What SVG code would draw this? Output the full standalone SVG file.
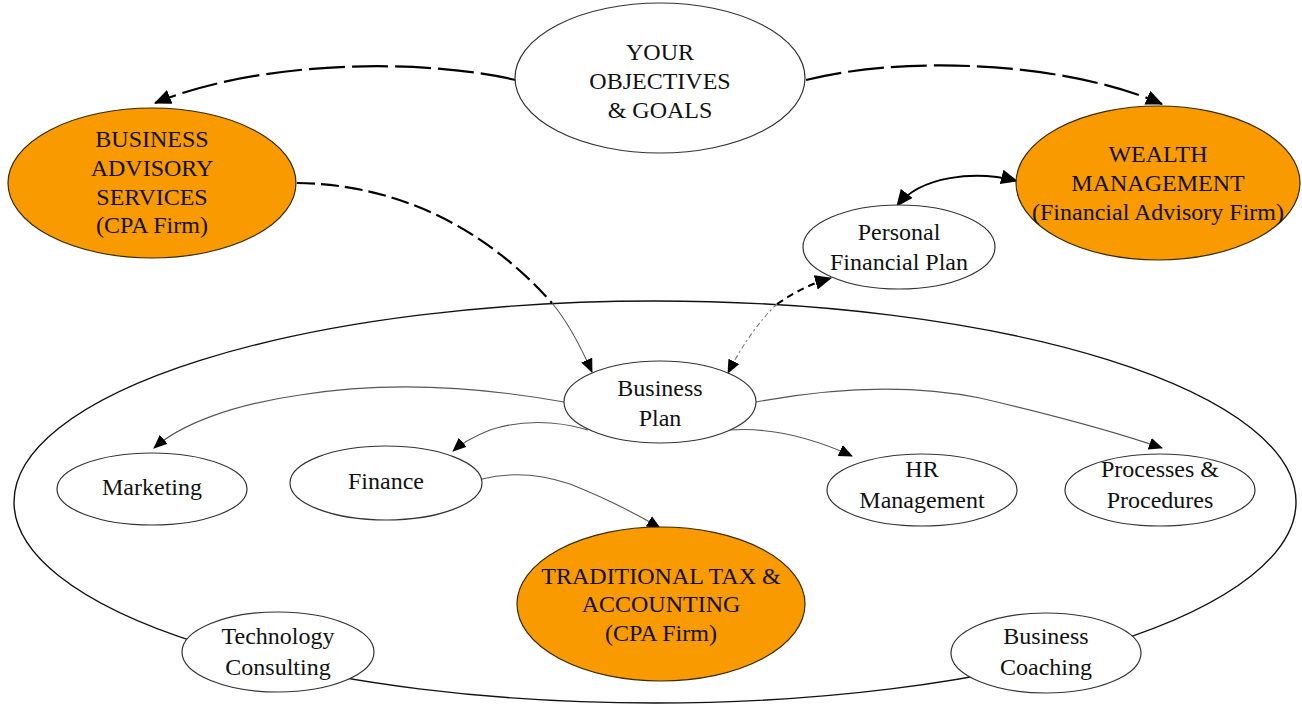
<svg xmlns="http://www.w3.org/2000/svg" width="1302" height="705" viewBox="0 0 1302 705">
<style>
.w{fill:#fff;stroke:#333;stroke-width:1.2}
.o{fill:#F89A00;stroke:#3a2a00;stroke-width:1.2}
.t{font-family:"Liberation Serif","Times New Roman",serif;font-size:24px;fill:#111;text-anchor:middle}
.thick{fill:none;stroke:#000;stroke-width:2.2;stroke-dasharray:36 7}
.thin{fill:none;stroke:#555;stroke-width:1.1}
.dd{fill:none;stroke:#777;stroke-width:1.1;stroke-dasharray:5 3 2 3}
</style>
<defs>
<marker id="a" viewBox="0 0 14 12" refX="13" refY="6" markerWidth="14" markerHeight="12" markerUnits="userSpaceOnUse" orient="auto-start-reverse">
<path d="M0,0 L14,6 L0,12 z" fill="#000"/>
</marker>
<marker id="ab" viewBox="0 0 16 14" refX="15" refY="7" markerWidth="17" markerHeight="15" markerUnits="userSpaceOnUse" orient="auto-start-reverse">
<path d="M0,0 L16,7 L0,14 z" fill="#000"/>
</marker>
</defs>
<g id="boundary">
<ellipse cx="655" cy="502" rx="641" ry="201" fill="#fff" stroke="#111" stroke-width="1.4"/>
</g>
<g id="connectors">
<path class="thick" d="M516,80 C420,58 260,60 155,103" marker-end="url(#ab)"/>
<path class="thick" d="M806,80 C900,56 1060,60 1162,104" marker-end="url(#ab)"/>
<path class="thick" d="M297,183 C390,184 480,222 552,303" style="stroke-dasharray:18 6"/>
<path class="thin" d="M552,303 C568,322 580,345 592,372" marker-end="url(#a)"/>
<path d="M1017,181 C975,170 920,176 897,206" fill="none" stroke="#000" stroke-width="2" marker-start="url(#ab)" marker-end="url(#ab)"/>
<path d="M777,304 C795,292 810,284 831,278" fill="none" stroke="#000" stroke-width="2" stroke-dasharray="7 5" marker-end="url(#ab)"/>
<path class="dd" d="M777,304 C760,320 742,345 728,373" marker-end="url(#a)"/>
<path class="thin" d="M564,402 C470,385 380,382 300,395 C230,405 180,425 154,448" marker-end="url(#a)"/>
<path class="thin" d="M588,430 C555,420 520,420 490,430 C475,436 462,443 453,451" marker-end="url(#a)"/>
<path class="thin" d="M730,430 C760,428 800,432 852,456" marker-end="url(#a)"/>
<path class="thin" d="M756,402 C820,390 900,382 980,398 C1040,412 1110,430 1162,448" marker-end="url(#a)"/>
<path class="thin" d="M482,479 C510,472 540,474 570,484 C600,496 630,510 660,528" marker-end="url(#a)"/>
</g>
<g id="objectives">
<ellipse class="w" cx="660" cy="78" rx="145" ry="75" stroke-width="1.6"/>
<text class="t" x="660" y="60">YOUR</text>
<text class="t" x="660" y="89">OBJECTIVES</text>
<text class="t" x="660" y="118">&amp; GOALS</text>
</g>
<g id="business-advisory">
<ellipse class="o" cx="152" cy="183" rx="144" ry="75"/>
<text class="t" x="152" y="147">BUSINESS</text>
<text class="t" x="152" y="176">ADVISORY</text>
<text class="t" x="152" y="205">SERVICES</text>
<text class="t" x="152" y="233">(CPA Firm)</text>
</g>
<g id="wealth-management">
<ellipse class="o" cx="1158" cy="183" rx="142" ry="77"/>
<text class="t" x="1158" y="162">WEALTH</text>
<text class="t" x="1158" y="191">MANAGEMENT</text>
<text class="t" x="1158" y="220">(Financial Advisory Firm)</text>
</g>
<g id="personal-financial-plan">
<ellipse class="w" cx="899" cy="247" rx="96" ry="42"/>
<text class="t" x="899" y="240">Personal</text>
<text class="t" x="899" y="270">Financial Plan</text>
</g>
<g id="business-plan">
<ellipse class="w" cx="660" cy="402" rx="96" ry="41"/>
<text class="t" x="660" y="396">Business</text>
<text class="t" x="660" y="426">Plan</text>
</g>
<g id="marketing">
<ellipse class="w" cx="152" cy="489" rx="95" ry="36"/>
<text class="t" x="152" y="495">Marketing</text>
</g>
<g id="finance">
<ellipse class="w" cx="386" cy="483" rx="96" ry="37"/>
<text class="t" x="386" y="489">Finance</text>
</g>
<g id="hr-management">
<ellipse class="w" cx="922" cy="490" rx="95" ry="36"/>
<text class="t" x="922" y="477">HR</text>
<text class="t" x="922" y="508">Management</text>
</g>
<g id="processes">
<ellipse class="w" cx="1160" cy="490" rx="95" ry="36"/>
<text class="t" x="1160" y="477">Processes &amp;</text>
<text class="t" x="1160" y="508">Procedures</text>
</g>
<g id="traditional-tax">
<ellipse class="o" cx="661" cy="604" rx="144" ry="77"/>
<text class="t" x="661" y="584">TRADITIONAL TAX &amp;</text>
<text class="t" x="661" y="612">ACCOUNTING</text>
<text class="t" x="661" y="641">(CPA Firm)</text>
</g>
<g id="technology-consulting">
<ellipse class="w" cx="278" cy="652" rx="96" ry="40"/>
<text class="t" x="278" y="644">Technology</text>
<text class="t" x="278" y="675">Consulting</text>
</g>
<g id="business-coaching">
<ellipse class="w" cx="1046" cy="653" rx="95" ry="40"/>
<text class="t" x="1046" y="644">Business</text>
<text class="t" x="1046" y="675">Coaching</text>
</g>
</svg>
